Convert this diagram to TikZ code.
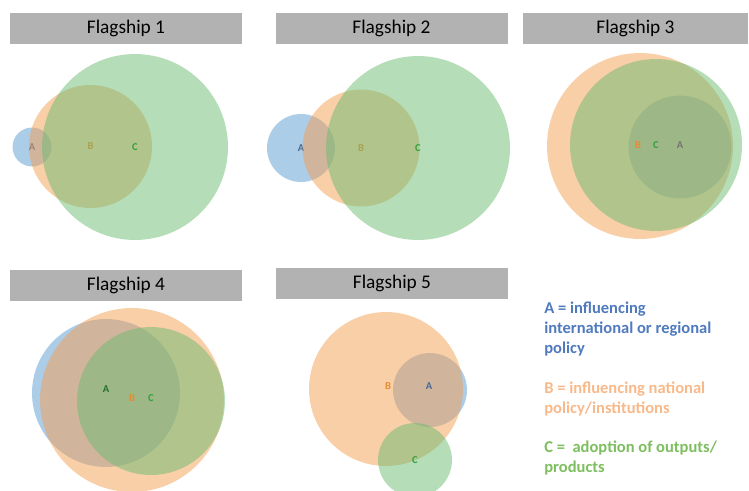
\documentclass[tikz,border=0pt]{standalone}
\usepackage{fontspec}
\setmainfont{Carlito}
\definecolor{barGray}{RGB}{178,178,178}
\definecolor{vennBlue}{RGB}{90,155,210}
\definecolor{vennOrange}{RGB}{243,159,81}
\definecolor{vennGreen}{RGB}{107,187,113}
\definecolor{labelBlue}{RGB}{70,105,150}
\definecolor{labelOrange}{RGB}{230,140,50}
\definecolor{labelGreen}{RGB}{50,160,60}
\definecolor{keyBlue}{RGB}{79,122,190}
\definecolor{keyOrange}{RGB}{248,185,138}
\definecolor{keyGreen}{RGB}{125,190,95}

\begin{document}
\begin{tikzpicture}[
  x=0.02cm, y=-0.02cm,
  bar/.style={fill=barGray, minimum width=232*0.02cm, minimum height=31*0.02cm,
    inner sep=0pt, font=\fontsize{11}{12}\selectfont},
  venn/.style={circle, inner sep=0pt, fill opacity=0.5, text opacity=1,
    font=\fontsize{6}{6}\selectfont\bfseries},
  rad/.style={minimum size=#1*0.04cm},
  setA/.style={venn, fill=vennBlue, text=labelBlue},
  setB/.style={venn, fill=vennOrange, text=labelOrange},
  setC/.style={venn, fill=vennGreen, text=labelGreen},
  tag/.style={inner sep=0pt, font=\fontsize{6}{6}\selectfont\bfseries},
  key/.style={anchor=base west, align=left, inner sep=0pt,
    font=\fontsize{9.4}{11.3}\selectfont\bfseries}
]
\useasboundingbox (0,0) rectangle (749,490);

% Flagship 1
\node[bar] (t1) at (126,28) {Flagship 1};
\node[setA, rad=19.5] (f1a) at (32,147) {A};
\node[setB, rad=61.5] (f1b) at (90.5,146.5) {B};
\node[setC, rad=93] (f1c) at (135,147) {C};

% Flagship 2
\node[bar] (t2) at (391.5,28) {Flagship 2};
\node[setA, rad=34] (f2a) at (301,148) {A};
\node[setB, rad=58.5] (f2b) at (361,148) {B};
\node[setC, rad=92] (f2c) at (418,148) {C};

% Flagship 3
\node[bar, minimum width=225*0.02cm] (t3) at (635.5,28) {Flagship 3};
\node[setA, rad=51.5] (f3a) at (680,147) {};
\node[setB, rad=93] (f3b) at (640,146) {};
\node[setC, rad=86] (f3c) at (656,145) {C};
\node[tag, text=labelOrange] (f3bl) at (638,145) {B};
\node[tag, text=black!55] (f3al) at (680,145) {A};

% Flagship 4
\node[bar] (t4) at (126,285) {Flagship 4};
\node[setA, rad=74] (f4a) at (106,393) {};
\node[setB, rad=92] (f4b) at (132,400) {};
\node[setC, rad=74] (f4c) at (151,401) {};
\node[tag, text=labelGreen!70!black] (f4al) at (106,389) {A};
\node[tag, text=labelOrange] (f4bl) at (132,398) {B};
\node[tag, text=labelGreen] (f4cl) at (151,398) {C};

% Flagship 5
\node[bar] (t5) at (392,283.5) {Flagship 5};
\node[setA, rad=37] (f5a) at (430,390) {};
\node[setB, rad=77] (f5b) at (386,389) {};
\node[setC, rad=37] (f5c) at (415,460) {C};
\node[tag, text=labelOrange] (f5bl) at (388,386) {B};
\node[tag, text=labelBlue] (f5al) at (429,386) {A};

% key
\node[key, text=keyBlue] (keyA) at (544,353)
  {A = influencing\\international or regional\\policy};
\node[key, text=keyOrange] (keyB) at (544,413)
  {B = influencing national\\policy/institutions};
\node[key, text=keyGreen] (keyC) at (544,472)
  {C =\ \ adoption of outputs/\\products};
\end{tikzpicture}
\end{document}
